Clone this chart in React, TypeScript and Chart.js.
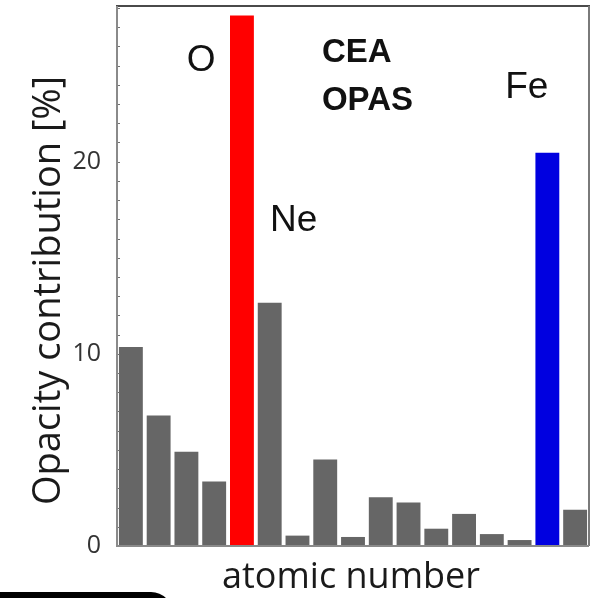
import React, { useEffect, useRef } from "react";
import { Chart, registerables } from "chart.js";
Chart.register(...registerables);

const elements = ["H", "He", "C", "N", "O", "Ne", "Na", "Mg", "Al", "Si", "S", "Ar", "Ca", "Cr", "Mn", "Fe", "Ni"];
const contributions = [10.36, 6.79, 4.91, 3.35, 27.6, 12.66, 0.54, 4.5, 0.47, 2.54, 2.26, 0.9, 1.67, 0.62, 0.31, 20.47, 1.88];
const highlight: Record<string, string> = { O: "#ff0000", Fe: "#0000e0" };
const yMax = 28.1;
const yLabelTicks = [0, 10, 20];

// text annotations anchored in data space (category index, value)
const notes = [
  { text: "O", x: 2.53, y: 24.7, bold: false, size: 37, align: "center" },
  { text: "Ne", x: 5.01, y: 16.4, bold: false, size: 37, align: "left" },
  { text: "Fe", x: 13.48, y: 23.3, bold: false, size: 37, align: "left" },
  { text: "CEA", x: 6.88, y: 25.2, bold: true, size: 33, align: "left" },
  { text: "OPAS", x: 6.88, y: 22.7, bold: true, size: 33, align: "left" },
];

export default function App() {
  const ref = useRef<HTMLCanvasElement>(null);
  useEffect(() => {
    document.body.style.margin = "0";
    const frame = {
      id: "frame",
      afterDraw(chart: any) {
        const { ctx, chartArea: a, scales } = chart;
        const y = scales.y;
        const x = scales.x;
        ctx.save();
        // minor ticks inside
        ctx.strokeStyle = "#707070";
        ctx.lineWidth = 1;
        for (let v = 1; v < yMax; v++) {
          const py = Math.round(y.getPixelForValue(v)) + 0.5;
          ctx.beginPath();
          ctx.moveTo(a.left, py);
          ctx.lineTo(a.left + 3, py);
          ctx.stroke();
        }
        // frame
        ctx.lineWidth = 2;
        ctx.strokeStyle = "#4a4a4a";
        ctx.beginPath();
        ctx.moveTo(a.left - 1, a.top);
        ctx.lineTo(a.right + 1, a.top);
        ctx.stroke();
        ctx.strokeStyle = "#7a7a7a";
        ctx.beginPath();
        ctx.moveTo(a.right, a.top);
        ctx.lineTo(a.right, a.bottom);
        ctx.stroke();
        ctx.strokeStyle = "#8a8a8a";
        ctx.beginPath();
        ctx.moveTo(a.left, a.top);
        ctx.lineTo(a.left, a.bottom + 1);
        ctx.moveTo(a.left, a.bottom);
        ctx.lineTo(a.right, a.bottom);
        ctx.stroke();
        // notes
        ctx.fillStyle = "#111";
        ctx.textBaseline = "alphabetic";
        for (const n of notes) {
          ctx.font = `${n.bold ? "bold " : ""}${n.size}px "Liberation Sans", Arial, sans-serif`;
          ctx.textAlign = n.align as CanvasTextAlign;
          const px = x.getPixelForValue(0) + (x.getPixelForValue(1) - x.getPixelForValue(0)) * n.x;
          ctx.fillText(n.text, px, y.getPixelForValue(n.y));
        }
        // titles
        ctx.fillStyle = "#1a1a1a";
        ctx.font = `36px "Open Sans", sans-serif`;
        ctx.textAlign = "center";
        ctx.fillText("atomic number", (a.left + a.right) / 2 - 2, a.bottom + 42);
        ctx.save();
        ctx.translate(a.left - 57, y.getPixelForValue(13.3));
        ctx.rotate(-Math.PI / 2);
        ctx.font = `38px "Open Sans", sans-serif`;
        ctx.fillText("Opacity contribution [%]", 0, 0);
        ctx.restore();
        ctx.restore();
      },
    };
    const chart = new Chart(ref.current!, {
      type: "bar",
      data: {
        labels: elements,
        datasets: [
          {
            data: contributions,
            backgroundColor: elements.map((e) => highlight[e] || "#666666"),
            borderWidth: 0,
            barPercentage: 0.86,
            categoryPercentage: 1,
          },
        ],
      },
      options: {
        responsive: false,
        animation: false,
        layout: { padding: { top: 6, right: 17, left: 0, bottom: 0 } },
        plugins: { legend: { display: false }, tooltip: { enabled: false } },
        scales: {
          x: {
            grid: { display: false },
            border: { display: false },
            ticks: { display: false },
            afterFit: (s: any) => { s.height = 52; s.paddingLeft = 0; s.paddingRight = 0; },
          },
          y: {
            min: 0,
            max: yMax,
            grid: { display: false },
            border: { display: false },
            afterBuildTicks: (s: any) => { s.ticks = yLabelTicks.map((v) => ({ value: v })); },
            ticks: {
              padding: 8,
              color: "#333",
              font: { family: "'Open Sans', sans-serif", size: 25 },
            },
            afterFit: (s: any) => { s.width = 117; s.paddingTop = 0; s.paddingBottom = 0; },
          },
        },
      },
      plugins: [frame],
    });
    return () => chart.destroy();
  }, []);
  return (
    <div style={{ position: "relative", width: 606, height: 598, overflow: "hidden", background: "#fff" }}>
      <canvas ref={ref} width={606} height={598} style={{ display: "block" }} />
      <div style={{ position: "absolute", left: 0, top: 592, width: 173, height: 30, background: "#000", borderTopRightRadius: 22 }} />
    </div>
  );
}
